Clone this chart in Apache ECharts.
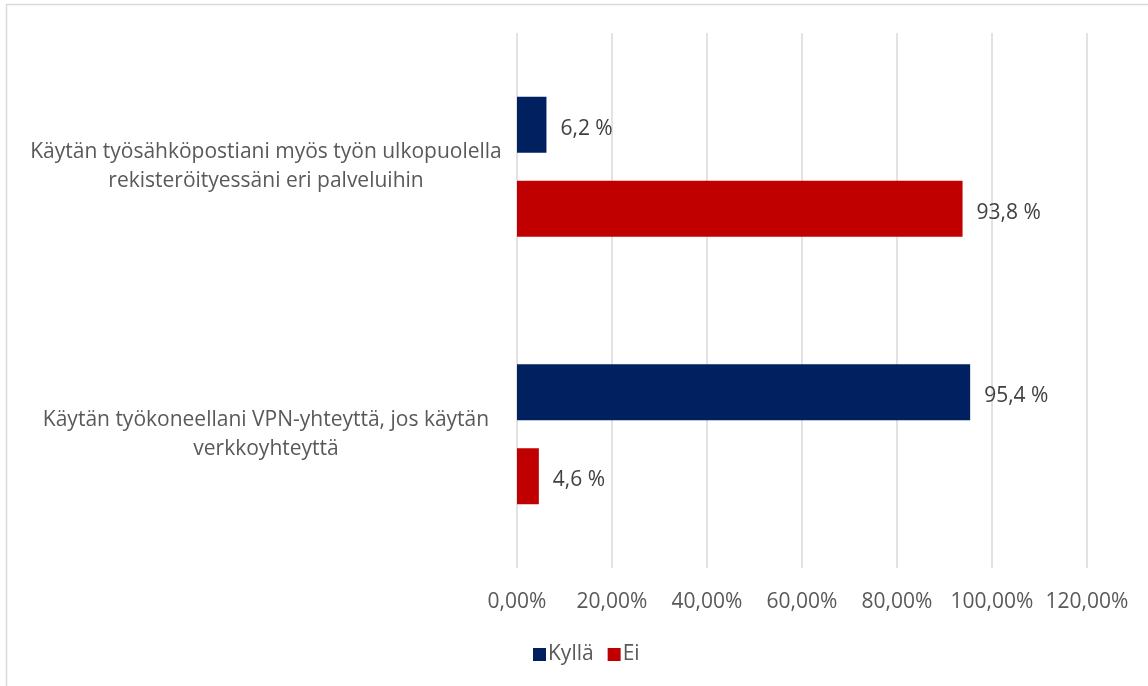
<!DOCTYPE html>
<html>
<head>
<meta charset="utf-8">
<script src="https://cdn.jsdelivr.net/npm/echarts@6/dist/echarts.min.js"></script>
<style>
  html, body { margin: 0; padding: 0; background: #fff; }
  #chart { width: 1148px; height: 686px; }
</style>
</head>
<body>
<div id="chart"></div>
<script>
// Survey statements (top to bottom)
const categories = [
  'Käytän työsähköpostiani myös työn ulkopuolella\nrekisteröityessäni eri palveluihin',
  'Käytän työkoneellani VPN-yhteyttä, jos käytän\nverkkoyhteyttä'
];
const seriesNames = ['Kyllä', 'Ei'];
// Share of answers, percent
const kyllaValues = [6.2, 95.4];
const eiValues = [93.8, 4.6];
const axisMax = 120;
const axisStep = 20;

const FONT = '"Open Sans", "Noto Sans", sans-serif';
const TEXT = '#595959';

const chart = echarts.init(document.getElementById('chart'), null, { renderer: 'canvas' });

const pct = v => v.toFixed(1).replace('.', ',') + ' %';

const valueLabel = {
  show: true, position: 'right', distance: 14, offset: [0, 4],
  fontFamily: FONT, fontSize: 21, color: '#404040',
  formatter: p => pct(p.value)
};

chart.setOption({
  backgroundColor: '#ffffff',
  animation: false,
  graphic: [{
    type: 'rect',
    shape: { x: 6.5, y: 4.5, width: 1300, height: 900 },
    style: { fill: 'none', stroke: '#d9d9d9', lineWidth: 1.5 },
    silent: true,
    z: -10
  }],
  grid: { left: 517, right: 61, top: 33, bottom: 118, containLabel: false },
  legend: {
    data: seriesNames,
    left: 528,
    top: 639,
    itemWidth: 13,
    itemHeight: 13,
    itemGap: 14,
    icon: 'rect',
    textStyle: { fontFamily: FONT, fontSize: 21, color: TEXT, padding: [0, 0, 0, -3] }
  },
  xAxis: {
    type: 'value',
    min: 0,
    max: axisMax,
    interval: axisStep,
    axisLine: { show: false },
    axisTick: { show: false },
    splitLine: { show: true, lineStyle: { color: '#d9d9d9', width: 1.5 } },
    axisLabel: {
      margin: 24,
      fontFamily: FONT,
      fontSize: 21,
      color: TEXT,
      formatter: v => v.toFixed(2).replace('.', ',') + '%'
    }
  },
  yAxis: {
    type: 'category',
    data: categories,
    inverse: true,
    axisLine: { show: false },
    axisTick: { show: false },
    axisLabel: {
      align: 'center',
      margin: 251,
      fontFamily: FONT,
      fontSize: 21,
      lineHeight: 29,
      color: TEXT,
      padding: [3, 0, 0, 0]
    }
  },
  series: [
    {
      name: seriesNames[0],
      type: 'bar',
      data: kyllaValues,
      barWidth: 56,
      barGap: '50%',
      itemStyle: { color: '#002060' },
      label: valueLabel
    },
    {
      name: seriesNames[1],
      type: 'bar',
      data: eiValues,
      barWidth: 56,
      barGap: '50%',
      itemStyle: { color: '#c00000' },
      label: valueLabel
    }
  ]
});
</script>
</body>
</html>
